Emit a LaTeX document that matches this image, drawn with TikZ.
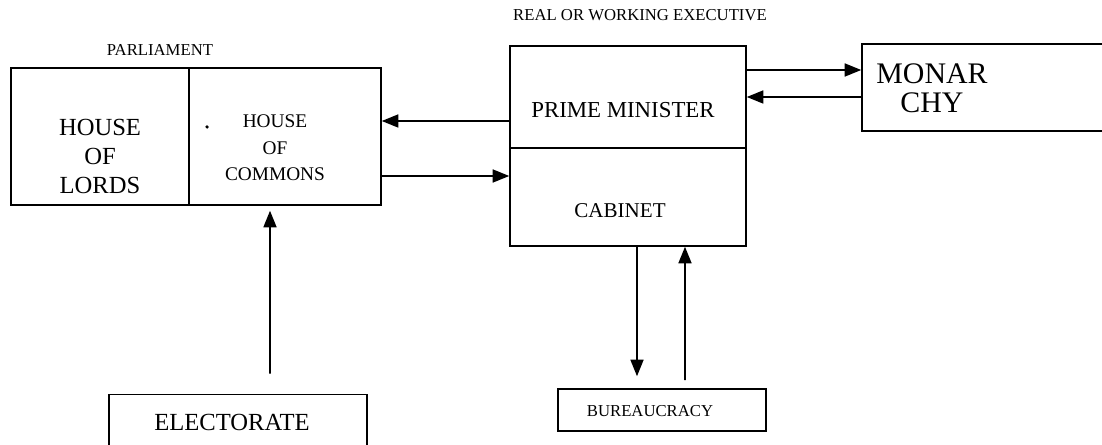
\documentclass[tikz,border=0pt]{standalone}
\usepackage{fontspec}
\setmainfont{Liberation Serif}
\usetikzlibrary{arrows.meta,positioning}
\tikzset{
  box/.style={draw,line width=0.9pt,inner sep=0pt},
  nyil/.style={line width=0.9pt,-{Triangle[length=3.3mm,width=2.6mm]}},
  felirat/.style={align=center,inner sep=0pt},
}

\begin{document}
\begin{tikzpicture}[x=0.02cm,y=-0.02cm]
  \useasboundingbox (0,0) rectangle (1102,445);
  % parliament
  \node[box,minimum width=3.56cm,minimum height=2.74cm] (lords) at (100,136.5) {};
  \node[box,minimum width=3.84cm,minimum height=2.74cm] (commons) at (285,136.5) {};
  \node[felirat,font=\fontsize{9.5}{11}\selectfont] (parl) at (160,50) {PARLIAMENT};
  \node[felirat,font=\fontsize{14}{16.5}\selectfont] (lordstxt) at (100,156) {HOUSE\\OF\\LORDS};
  \node[felirat,font=\fontsize{11}{15}\selectfont] (commonstxt) at (275,148) {HOUSE\\OF\\COMMONS};
  \fill (207,127) circle (1pt);
  % executive
  \node[box,minimum width=4.72cm,minimum height=2.04cm] (pm) at (628,97) {};
  \node[box,minimum width=4.72cm,minimum height=1.96cm] (cab) at (628,197) {};
  \node[felirat,font=\fontsize{9.5}{11}\selectfont] (exec) at (640,15) {REAL OR WORKING EXECUTIVE};
  \node[felirat,font=\fontsize{13}{15}\selectfont] (pmtxt) at (623,110) {PRIME MINISTER};
  \node[felirat,font=\fontsize{12}{14}\selectfont] (cabtxt) at (620,211) {CABINET};
  % monarchy, electorate, bureaucracy
  \node[box,minimum width=4.96cm,minimum height=1.74cm] (mon) at (986,87.5) {};
  \node[felirat,font=\fontsize{17}{16.5}\selectfont] (montxt) at (932,88) {MONAR\\CHY};
  \node[box,minimum width=5.16cm,minimum height=1.5cm] (elect) at (238,432) {};
  \node[felirat,font=\fontsize{14}{16}\selectfont] (electtxt) at (232,422) {ELECTORATE};
  \node[box,minimum width=4.16cm,minimum height=0.84cm] (bur) at (662,410) {};
  \node[felirat,font=\fontsize{9.5}{11}\selectfont] (burtxt) at (650,411) {BUREAUCRACY};
  % arrows
  \draw[nyil] ([yshift=-0.48cm]pm.west) -- ([yshift=0.31cm]commons.east);
  \draw[nyil] ([yshift=-0.79cm]commons.east) -- ([yshift=0.42cm]cab.west);
  \draw[nyil] ([yshift=0.54cm]pm.east) -- ([yshift=0.35cm]mon.west);
  \draw[nyil] ([yshift=-0.19cm]mon.west) -- (pm.east);
  \draw[nyil,shorten >=0.24cm] ([xshift=0.18cm]cab.south) -- ([xshift=-0.5cm]bur.north);
  \draw[nyil,shorten <=0.16cm] ([xshift=0.46cm]bur.north) -- ([xshift=1.14cm]cab.south);
  \draw[nyil,shorten <=0.4cm,shorten >=0.1cm] ([xshift=0.64cm]elect.north) -- ([xshift=-0.3cm]commons.south);
\end{tikzpicture}
\end{document}
